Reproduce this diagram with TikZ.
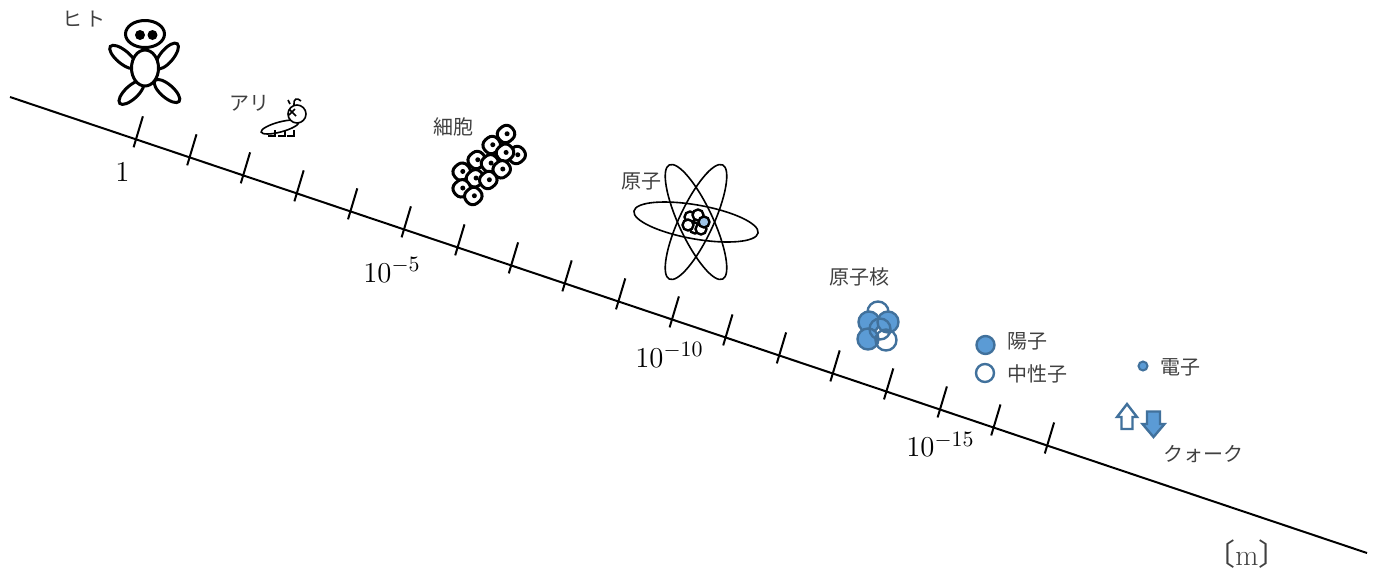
\documentclass[tikz,border=0pt]{standalone}
\usepackage{amsmath}
\usepackage{fontspec}
\newfontfamily\jp{Noto Sans CJK JP}
\definecolor{nucfill}{HTML}{5B9BD5}
\definecolor{nucline}{HTML}{41719C}
\definecolor{corefill}{HTML}{9DC3E6}

\begin{document}
\begin{tikzpicture}[x=0.5pt, y=-0.5pt,
    every node/.style={inner sep=0pt},
    jplabel/.style={font=\jp\fontsize{10}{12}\selectfont, text=black!75},
    numlabel/.style={font=\fontsize{15.5}{18}\selectfont, anchor=base west},
    figline/.style={line width=1.5pt},
    thinline/.style={line width=0.8pt},
    cellwall/.style={line width=1.5pt, fill=white, rounded corners=3.5pt},
    proton/.style={draw=nucline, fill=nucfill, line width=1.2pt},
    neutron/.style={draw=nucline, line width=1.2pt}]
    \useasboundingbox (0,0) rectangle (1378,569);

    % ---------- length axis ----------
    \draw[line width=1pt] (10,97) -- (1367,553);
    \foreach \i in {0,...,17}
      \draw[line width=1pt] ({133.6+53.6*\i},{147.3+18.01*\i}) -- ++(9.3,-31);

    \node[numlabel] (one)  at (115,181)   {$1$};
    \node[numlabel] (em5)  at (363,282)   {$10^{-5}$};
    \node[numlabel] (em10) at (635,367)   {$10^{-10}$};
    \node[numlabel] (em15) at (906,456.5) {$10^{-15}$};
    \node[font=\jp\fontsize{15}{17}\selectfont, text=black!75] (unit) at (1247,554) {〔{\rmfamily m}〕};

    % ---------- human ----------
    \begin{scope}[figline]
      \draw[rotate around={-40:(123,57)}] (123,57) ellipse (16.5 and 6.5);
      \draw[rotate around={50:(167,56)}] (167,56) ellipse (16 and 6.5);
      \draw[rotate around={43:(131.5,92.5)}] (131.5,92.5) ellipse (16 and 6.5);
      \draw[rotate around={-41:(167,91)}] (167,91) ellipse (16 and 6.5);
      \draw[fill=white] (145,68) ellipse (13.5 and 18);
      \draw[fill=white] (145,34) ellipse (19.5 and 13.5);
      \fill (140,35) circle (5) (152.5,35) circle (5);
    \end{scope}
    \node[jplabel] (hito) at (84,19) {ヒ\,ト};

    % ---------- ant ----------
    \begin{scope}[thinline]
      \draw[rotate around={15:(280,127)}] (280,127) ellipse (19.5 and 5);
      \foreach \x in {275,285,294}
        \draw (\x,130) -- (\x,136) -- (\x-7,136);
      \draw[fill=white] (297,114) circle (9);
      \draw (289,109) -- (296,116) (295,109) -- (289,115);
      \draw (294,105) .. controls (293,99) and (297,97) .. (301,101);
      \draw (290,104) -- (288,100);
    \end{scope}
    \node[jplabel] (ari) at (249.5,103.5) {アリ};

    % ---------- cells ----------
    \foreach \x/\y in {506/134, 491.7/145, 516.7/155, 505/152.7, 476.7/160,
                       490/163.3, 501.7/169.3, 461.7/171.7, 475/178.3,
                       488.3/180, 461.7/188.3, 473.3/196}
    {
      \begin{scope}[shift={(\x,\y)}, rotate=40]
        \draw[cellwall] (-8.5,-8) rectangle (8.5,8);
        \fill (1,0.5) circle (2.5);
      \end{scope}
    }
    \node[jplabel] (saibo) at (453,126.5) {細胞};

    % ---------- atom ----------
    \foreach \a in {-10,65,115}
      \draw[thinline, rotate around={\a:(696,222)}] (696,222) ellipse (63 and 17);
    \foreach \x/\y in {690/217, 698/215, 695/228, 688/225, 701/229}
      \draw[line width=1.2pt, fill=white] (\x,\y) circle (5.5);
    \draw[line width=1.2pt, fill=corefill] (704,222) circle (5.5);
    \node[jplabel] (genshi) at (641,181.5) {原子};

    % ---------- nucleus ----------
    \draw[neutron, fill=white] (878,312) circle (10.5);
    \draw[proton] (869,322) circle (10.5);
    \draw[proton] (888,322) circle (10.5);
    \draw[proton] (868,339) circle (10.5);
    \draw[neutron] (886,340) circle (10.5);
    \draw[neutron] (880,329) circle (10.5);
    \node[jplabel] (kaku) at (859,276.5) {原子核};

    % ---------- proton, neutron, electron ----------
    \draw[proton] (985.5,345) circle (9);
    \node[jplabel] (yoshi) at (1027.5,341) {陽子};
    \draw[neutron] (985,373) circle (9);
    \node[jplabel] (chusei) at (1037.5,374) {中性子};
    \draw[proton, line width=1pt] (1143,366) circle (4.5);
    \node[jplabel] (denshi) at (1180,367) {電子};

    % ---------- quarks ----------
    \draw[neutron, fill=white] (1127,404) -- (1137,417) -- (1132.5,417) -- (1132.5,429)
      -- (1121.5,429) -- (1121.5,417) -- (1117,417) -- cycle;
    \draw[proton] (1153.5,437) -- (1164.5,424) -- (1160,424) -- (1160,411.5)
      -- (1147,411.5) -- (1147,424) -- (1142.5,424) -- cycle;
    \node[jplabel] (quark) at (1203,454) {クォーク};
  \end{tikzpicture}
\end{document}
